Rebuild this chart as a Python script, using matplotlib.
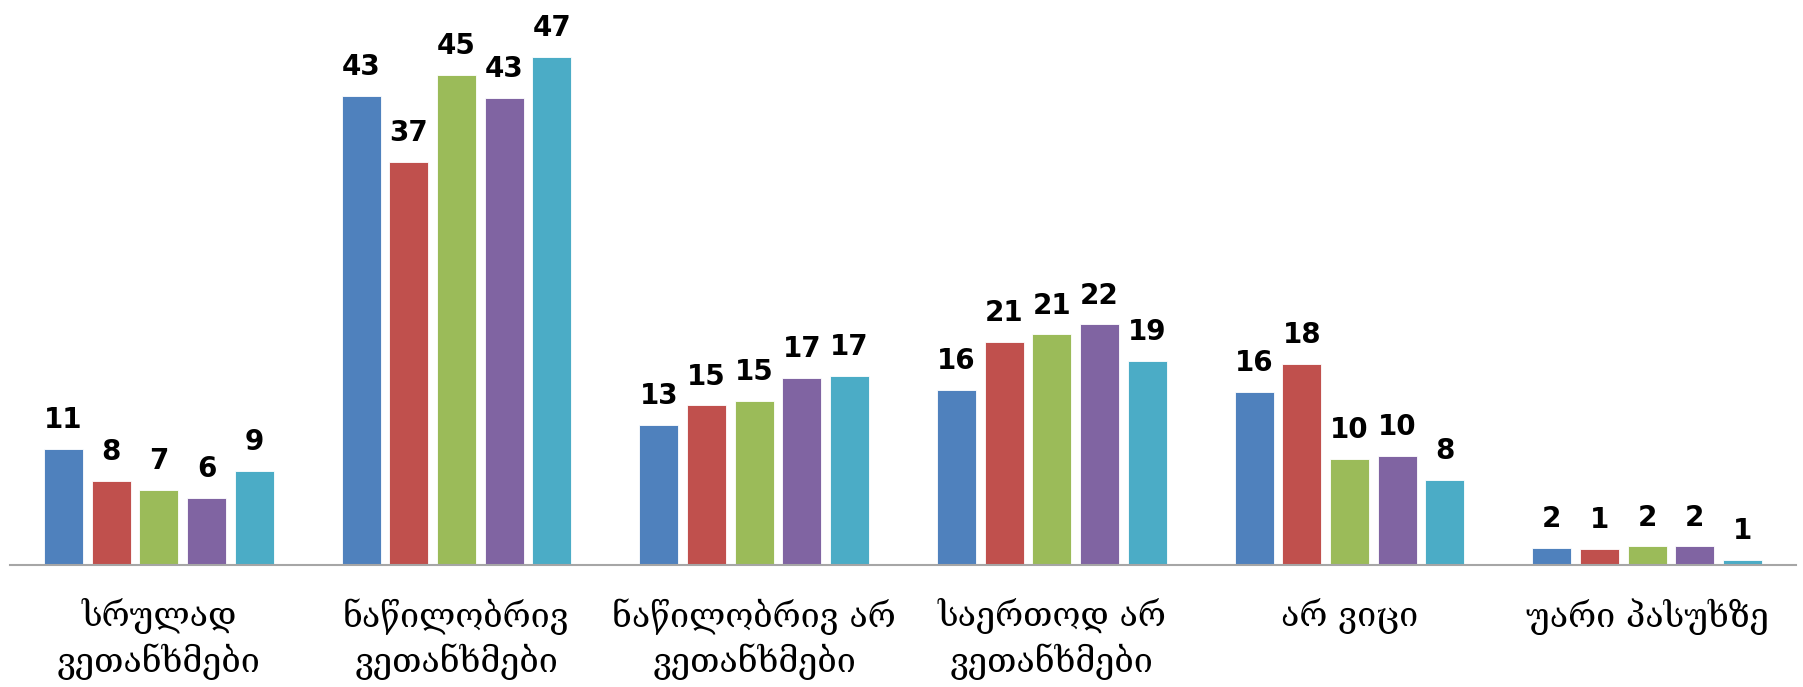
import matplotlib
matplotlib.use('Agg')
import matplotlib.pyplot as plt
import numpy as np

categories = ['სრულად\nვეთანხმები', 'ნაწილობრივ\nვეთანხმები', 'ნაწილობრივ არ\nვეთანხმები',
              'საერთოდ არ\nვეთანხმები', 'არ ვიცი', 'უარი პასუხზე']

# bar heights (the printed labels are rounded)
s1 = [10.6, 42.9, 12.8, 16.0, 15.8, 1.6]
s2 = [7.7, 36.9, 14.6, 20.4, 18.4, 1.45]
s3 = [6.9, 44.8, 15.0, 21.1, 9.7, 1.7]
s4 = [6.1, 42.7, 17.1, 22.0, 10.0, 1.7]
s5 = [8.6, 46.5, 17.3, 18.7, 7.8, 0.5]

lab1 = [11, 43, 13, 16, 16, 2]
lab2 = [8, 37, 15, 21, 18, 1]
lab3 = [7, 45, 15, 21, 10, 2]
lab4 = [6, 43, 17, 22, 10, 2]
lab5 = [9, 47, 17, 19, 8, 1]

colors = ['#4F81BD', '#C0504D', '#9BBB59', '#8064A2', '#4BACC6']

series = [s1, s2, s3, s4, s5]
labels = [lab1, lab2, lab3, lab4, lab5]

fig = plt.figure(figsize=(18.03, 6.87), dpi=100)
ax = fig.add_axes([10 / 1803, 122 / 687, 1786 / 1803, 563 / 687])

x = np.arange(len(categories))
slot = 0.16
width = 0.131
for i, (vals, labs) in enumerate(zip(series, labels)):
    pos = x + (i - 2) * slot
    bars = ax.bar(pos, vals, width, color=colors[i], edgecolor='white', linewidth=0.6)
    for b, lab in zip(bars, labs):
        ax.annotate(str(lab), (b.get_x() + b.get_width() / 2, b.get_height()),
                    xytext=(0, 15), textcoords='offset points', ha='center', va='baseline',
                    fontsize=20, fontweight='bold', family='DejaVu Sans', color='black')

ax.set_xlim(-0.5, 5.5)
ax.set_ylim(0, 51.5)
ax.set_xticks(x)
ax.set_xticklabels(categories, family=['DejaVu Serif', 'DejaVu Sans'], fontsize=24.5,
                   linespacing=1.3)
ax.tick_params(axis='x', length=0, pad=24)
ax.set_yticks([])
for side in ['top', 'right', 'left']:
    ax.spines[side].set_visible(False)
ax.spines['bottom'].set_color('#A6A6A6')
ax.spines['bottom'].set_linewidth(1.5)

fig.savefig('out.png', dpi=100)
